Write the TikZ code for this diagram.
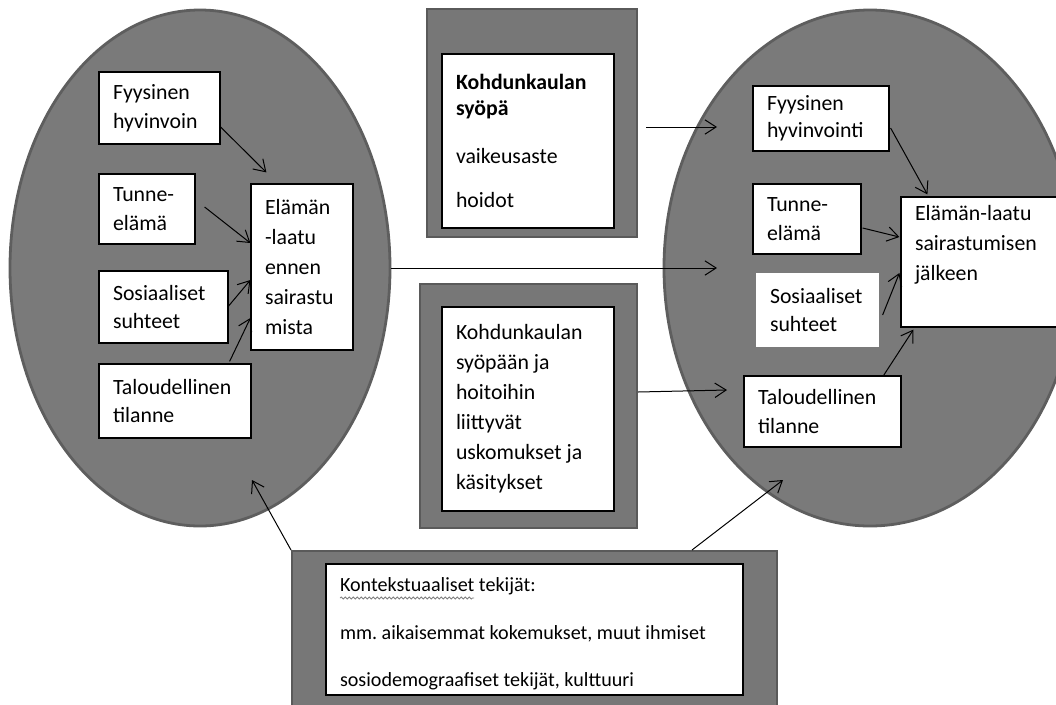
\documentclass[tikz,border=0pt]{standalone}
\usepackage{fontspec}
\setmainfont{Carlito}
\usetikzlibrary{shapes.geometric,arrows.meta,calc,decorations.pathmorphing}
\definecolor{setgray}{HTML}{7A7A7A}
\definecolor{setedge}{HTML}{5E5E5E}
\definecolor{framegray}{HTML}{777777}
\definecolor{frameedge}{HTML}{5A5A5A}
\frenchspacing
\begin{document}
\begin{tikzpicture}[x=0.25mm,y=-0.25mm,
            set/.style = {ellipse, fill=setgray, draw=setedge,
                line width=0.7mm, inner sep=0pt},
            frame/.style = {rectangle, fill=framegray, draw=frameedge,
                line width=0.5mm, inner sep=0pt},
            box/.style = {rectangle, fill=white, draw=black, line width=0.3mm,
                inner xsep=3.5mm, inner ysep=0pt, align=flush left,
                font=\fontsize{15.5}{20.5}\selectfont},
            link/.style = {-{Straight Barb[length=2.8mm,width=3.6mm]},
                line width=0.25mm}]

        \useasboundingbox (0,0) rectangle (1056,704);
        \clip (0,0) rectangle (1056,704);

        % Before the illness
        \node[set, minimum width=95mm, minimum height=129mm] (lset) at (200,268) {};

        % After the illness
        \node[set, minimum width=103mm, minimum height=129mm] (rset) at (870,268) {};

        % Boxes in the left set
        \node[box, text width=23.25mm, minimum height=18mm] (lfys) at (159.5,108) {Fyysinen\\hyvinvoin};
        \node[box, text width=17mm, minimum height=17.5mm] (ltun) at (147,209) {Tunne-\\elämä};
        \node[box, text width=25.25mm, minimum height=18mm] (lsos) at (163.5,307) {Sosiaaliset\\suhteet};
        \node[box, text width=31mm, minimum height=18.5mm] (ltal) at (175,401) {Taloudellinen\\tilanne};
        \node[box, text width=18.5mm, minimum height=41.5mm, font=\fontsize{15.5}{21.3}\selectfont] (lqol) at (302,267) {Elämän\\-laatu\\ennen\\sairastu\\mista};

        % Boxes in the right set
        \node[box, text width=27mm, minimum height=16.25mm, font=\fontsize{15.5}{19}\selectfont] (rfys) at (821,118.5) {Fyysinen\\hyvinvointi};
        \node[box, text width=20mm, minimum height=17.5mm] (rtun) at (807,219) {Tunne-\\elämä};
        \node[box, draw=none, text width=23.75mm, minimum height=18.5mm] (rsos) at (817.5,310) {Sosiaaliset\\suhteet};
        \node[box, text width=32.25mm, minimum height=17.75mm] (rtal) at (822.5,411.5) {Taloudellinen\\tilanne};
        \node[box, text width=35.25mm, minimum height=32.5mm, font=\fontsize{15.5}{21.3}\selectfont] (rqol) at (985.5,262) {Elämän-laatu\\sairastumisen\\jälkeen\\\strut};

        % Cancer
        \node[frame, minimum width=52.5mm, minimum height=57mm] (topframe) at (532,123) {};
        \node[box, text width=36mm, minimum height=43.5mm, font=\fontsize{15.5}{18.5}\selectfont] (cancer) at (528,141) {\textbf{Kohdunkaulan}\\\textbf{syöpä}\\[5.6mm]vaikeusaste\\[4.6mm]hoidot};

        % Beliefs
        \node[frame, minimum width=54.25mm, minimum height=61mm] (midframe) at (528.5,406) {};
        \node[box, text width=36mm, minimum height=51mm, font=\fontsize{15.5}{21.3}\selectfont] (beliefs) at (528,409) {Kohdunkaulan\\syöpään ja\\hoitoihin\\liittyvät\\uskomukset ja\\käsitykset};

        % Context
        \node[frame, minimum width=121.25mm, minimum height=42.25mm] (ctxframe) at (534.5,635.5) {};
        \begin{scope}
            \clip (326,564) rectangle (743,695);
            \node[box, draw=none, text width=97.25mm, minimum height=36mm, font=\fontsize{14.3}{20}\selectfont] (context) at (534.5,634) {\mbox{Kontekstuaaliset tekijät:}\\[4.9mm]\mbox{mm. aikaisemmat kokemukset, muut ihmiset}\\[4.9mm]\mbox{sosiodemograafiset tekijät, kulttuuri}};
        \end{scope}
        \draw[line width=0.3mm] (326,564) rectangle (743,695);
        \draw[gray, line width=0.2mm, decorate, decoration={snake, amplitude=0.25mm, segment length=1mm}]
            (340,598) -- (474,598);

        % Arrows in the left set
        \draw[link] ($(lfys.east)+(0,19)$) -- ($(lqol.north west)+(16,-11)$);
        \draw[link] ($(ltun.east)+(9,-2)$) -- ($(lqol.west)+(0,-24)$);
        \draw[link] ($(lsos.east)+(0,-1)$) -- ($(lqol.west)+(0,13)$);
        \draw[link] ($(ltal.north east)+(-22,-2)$) -- ($(lqol.west)+(0,51)$);

        % Arrows in the right set
        \draw[link] ($(rfys.east)+(1,9.5)$) -- ($(rqol.north west)+(27,-2)$);
        \draw[link] ($(rtun.east)+(1,9)$) -- ($(rqol.west)+(-1,-25)$);
        \draw[link] ($(rsos.east)+(3,5)$) -- ($(rqol.west)+(-1,11)$);
        \draw[link] ($(rtal.north east)+(-18,0)$) -- ($(rqol.south west)+(13,2)$);

        % Arrows between
        \coordinate (in1) at (717,127);
        \coordinate (in2) at (717,268);
        \coordinate (in3) at (727,390);
        \coordinate (in4) at (252,480);
        \coordinate (in5) at (783,480);
        \draw[link] ($(topframe.east)+(8,4)$) -- (in1);
        \draw[link] (lset.east) -- (in2);
        \draw[link] ($(midframe.east)+(0,-14)$) -- (in3);
        \draw[link] (ctxframe.north west) -- (in4);
        \draw[link] ($(ctxframe.north)+(157.5,0)$) -- (in5);

        \end{tikzpicture}
\end{document}
